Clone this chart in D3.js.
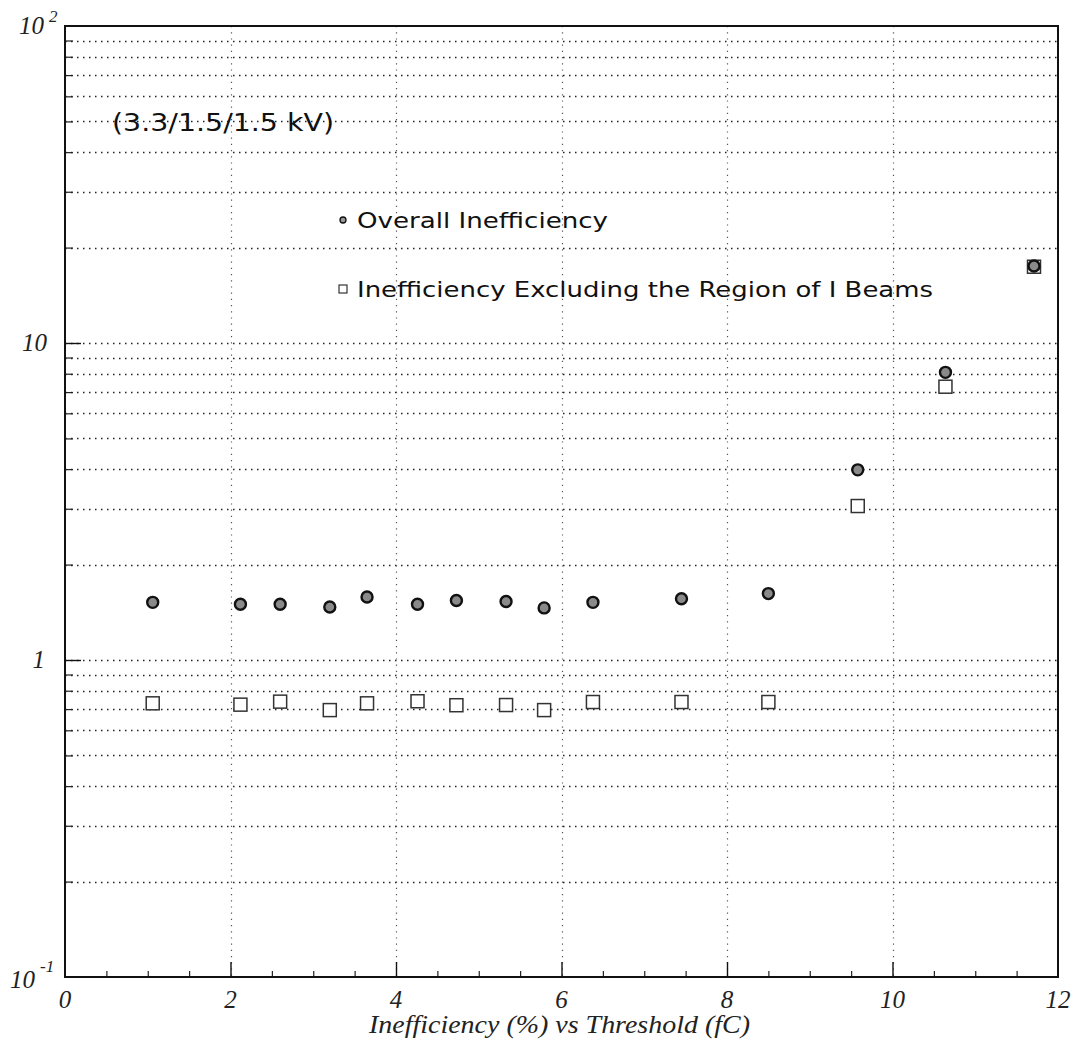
<!DOCTYPE html>
<html>
<head>
<meta charset="utf-8">
<script src="https://cdn.jsdelivr.net/npm/d3@7"></script>
<style>
  body { margin: 0; background: #fff; }
  svg { display: block; }
  .tick-label { font-family: "Liberation Serif", "DejaVu Serif", serif; font-style: italic; font-size: 23px; fill: #222; }
  .note { font-family: "DejaVu Sans", "Noto Sans", sans-serif; fill: #111; }
</style>
</head>
<body>
<svg id="chart" width="1085" height="1049"></svg>
<script>
// threshold values (fC), shared by both series
var thresholds = [1.06, 2.12, 2.60, 3.20, 3.65, 4.26, 4.73, 5.33, 5.79, 6.38, 7.45, 8.50, 9.58, 10.64, 11.71];
// overall inefficiency (%)
var overallIneff = [1.52, 1.50, 1.50, 1.47, 1.58, 1.50, 1.54, 1.53, 1.46, 1.52, 1.56, 1.62, 3.98, 8.08, 17.5];
// inefficiency excluding the region of I beams (%)
var exclIneff = [0.730, 0.723, 0.739, 0.695, 0.730, 0.741, 0.720, 0.721, 0.695, 0.737, 0.737, 0.737, 3.06, 7.28, 17.4];

var xTicks = [0, 2, 4, 6, 8, 10, 12];
var yDecades = [0.1, 1, 10, 100];
var yDecadeLabels = [["10", "-1"], ["1", ""], ["10", ""], ["10", "2"]];

var svg = d3.select("#chart"),
    margin = {top: 26, left: 65, bottom: 72, right: 27},
    width = +svg.attr("width"),
    height = +svg.attr("height");

var x = d3.scaleLinear().domain([0, 12]).range([margin.left, width - margin.right]);
var y = d3.scaleLog().domain([0.1, 100]).range([height - margin.bottom, margin.top]);

// minor log values 2..9 in each decade, plus decades
var yMinor = [];
[0.1, 1, 10].forEach(function(d) {
    for (var k = 2; k <= 9; k++) yMinor.push(d * k);
});
var yAllGrid = yMinor.concat([1, 10]);
var xMinor = d3.range(0.5, 12, 0.5).filter(d => d % 2 != 0);

// horizontal dotted grid
svg.append("g").selectAll("line")
    .data(yAllGrid)
    .join("line")
    .attr("x1", x(0)).attr("x2", x(12))
    .attr("y1", d => Math.round(y(d)) + 0.5).attr("y2", d => Math.round(y(d)) + 0.5)
    .attr("stroke", "#222").attr("stroke-width", 1.5)
    .attr("stroke-dasharray", "1.5,4.5");

// vertical dotted grid
svg.append("g").selectAll("line")
    .data([2, 4, 6, 8, 10])
    .join("line")
    .attr("x1", d => Math.round(x(d)) + 0.5).attr("x2", d => Math.round(x(d)) + 0.5)
    .attr("y1", y(100)).attr("y2", y(0.1))
    .attr("stroke", "#555").attr("stroke-width", 1.2)
    .attr("stroke-dasharray", "1.2,5");

// axes: bottom major/minor ticks pointing inward
svg.append("g")
    .attr("transform", `translate(0,${y(0.1)})`)
    .call(d3.axisTop(x).tickValues(xTicks.slice(1, -1)).tickSize(15).tickFormat(""))
    .call(g => g.select(".domain").remove())
    .selectAll("line").attr("stroke", "#111").attr("stroke-width", 1.4);
svg.append("g")
    .attr("transform", `translate(0,${y(0.1)})`)
    .call(d3.axisTop(x).tickValues(xMinor).tickSize(6).tickFormat(""))
    .call(g => g.select(".domain").remove())
    .selectAll("line").attr("stroke", "#222").attr("stroke-width", 1.2);

// left axis ticks pointing inward
svg.append("g")
    .attr("transform", `translate(${x(0)},0)`)
    .call(d3.axisRight(y).tickValues([1, 10]).tickSize(16).tickFormat(""))
    .call(g => g.select(".domain").remove())
    .selectAll("line").attr("stroke", "#111").attr("stroke-width", 1.4);
svg.append("g")
    .attr("transform", `translate(${x(0)},0)`)
    .call(d3.axisRight(y).tickValues(yMinor).tickSize(8).tickFormat(""))
    .call(g => g.select(".domain").remove())
    .selectAll("line").attr("stroke", "#222").attr("stroke-width", 1.2);

// frame
svg.append("rect")
    .attr("x", x(0)).attr("y", y(100))
    .attr("width", x(12) - x(0)).attr("height", y(0.1) - y(100))
    .attr("fill", "none").attr("stroke", "#111").attr("stroke-width", 2);

// x tick labels
svg.append("g").selectAll("text")
    .data(xTicks)
    .join("text")
    .attr("class", "tick-label")
    .attr("x", d => x(d)).attr("y", y(0.1) + 31)
    .attr("text-anchor", "middle")
    .style("font-size", "25px")
    .text(d => d);

// y tick labels with superscripts
var yLabelRight = [35, 45, 47, 44];   // right edge of the base part
var yLabelShift = [11, 8, 8, 8];
var yl = svg.append("g").selectAll("text")
    .data(yDecades)
    .join("text")
    .attr("class", "tick-label")
    .attr("x", (d, i) => yLabelRight[i])
    .attr("y", (d, i) => y(d) + yLabelShift[i])
    .style("font-size", "25px")
    .attr("text-anchor", "start");
yl.append("tspan").text((d, i) => yDecadeLabels[i][0]);
yl.append("tspan")
    .attr("dx", 5).attr("dy", (d, i) => i == 0 ? -16 : -12)
    .style("font-size", "17px")
    .text((d, i) => yDecadeLabels[i][1]);
// position so that the base ends at the chosen right edge
yl.each(function(d, i) {
    var base = this.firstChild.getComputedTextLength();
    d3.select(this).attr("x", yLabelRight[i] - base);
});

// x title
svg.append("text")
    .attr("class", "tick-label")
    .attr("x", 369).attr("y", height - 16)
    .attr("textLength", 381).attr("lengthAdjust", "spacingAndGlyphs")
    .style("font-size", "25px")
    .text("Inefficiency (%) vs Threshold (fC)");

// condition label
svg.append("text")
    .attr("class", "note")
    .attr("x", 112).attr("y", 131)
    .attr("textLength", 222).attr("lengthAdjust", "spacingAndGlyphs")
    .style("font-size", "25px")
    .text("(3.3/1.5/1.5 kV)");

// squares (excluding I beams)
var sq = 13;
svg.append("g").selectAll("rect")
    .data(thresholds.map((t, i) => [t, exclIneff[i]]))
    .join("rect")
    .attr("x", d => x(d[0]) - sq / 2).attr("y", d => y(d[1]) - sq / 2)
    .attr("width", sq).attr("height", sq)
    .attr("fill", "#fff").attr("stroke", "#333").attr("stroke-width", 1.5);

// circles (overall)
svg.append("g").selectAll("circle")
    .data(thresholds.map((t, i) => [t, overallIneff[i]]))
    .join("circle")
    .attr("cx", d => x(d[0])).attr("cy", d => y(d[1]))
    .attr("r", 5.5)
    .attr("fill", "#8a8a8a").attr("stroke", "#111").attr("stroke-width", 2.4);

// legend
svg.append("circle")
    .attr("cx", 343).attr("cy", 220).attr("r", 3)
    .attr("fill", "#999").attr("stroke", "#111").attr("stroke-width", 1.3);
svg.append("text")
    .attr("class", "note")
    .attr("x", 357).attr("y", 228)
    .attr("textLength", 251).attr("lengthAdjust", "spacingAndGlyphs")
    .style("font-size", "22px")
    .text("Overall Inefficiency");
svg.append("rect")
    .attr("x", 339).attr("y", 285).attr("width", 8).attr("height", 8)
    .attr("fill", "#fff").attr("stroke", "#222").attr("stroke-width", 1.1);
svg.append("text")
    .attr("class", "note")
    .attr("x", 357).attr("y", 297)
    .attr("textLength", 576).attr("lengthAdjust", "spacingAndGlyphs")
    .style("font-size", "22px")
    .text("Inefficiency Excluding the Region of I Beams");
</script>
</body>
</html>
